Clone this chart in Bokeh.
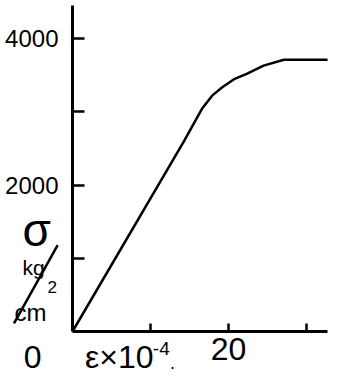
from bokeh.plotting import figure
from bokeh.models import Range1d, Label, Arrow, FixedTicker
from bokeh.embed import file_html
from bokeh.resources import INLINE

# strain (x10^-4) and stress (kg/cm^2)
eps = [0, 14.3, 15.4, 16.6, 17.9, 19.2, 20.8, 22.4, 24.5, 27.1, 32.7]
sigma = [0, 2600, 2810, 3040, 3220, 3335, 3450, 3520, 3630, 3710, 3710]

y_ticks = [1000, 2000, 3000, 4000]
y_tick_labels = {1000: "", 2000: "2000", 3000: "", 4000: "4000"}
x_ticks = [10, 20, 30]
x_tick_labels = {10: "", 20: "20", 30: ""}

FONT = "Liberation Sans"

p = figure(width=339, height=378, output_backend="svg", toolbar_location=None,
           x_range=Range1d(-9.2308, 34.2308), y_range=Range1d(-641.6, 4518.8),
           min_border=0)
p.outline_line_color = None
p.grid.visible = False
p.background_fill_color = "white"
p.border_fill_color = "white"

p.line(eps, sigma, line_width=2.5, line_color="black", line_join="round")

for ax in (p.xaxis[0], p.yaxis[0]):
    ax.fixed_location = 0
    ax.axis_line_width = 3
    ax.axis_line_color = "black"
    ax.major_tick_line_width = 2.5
    ax.major_tick_line_color = "black"
    ax.minor_tick_line_color = None
    ax.major_tick_out = 0
    ax.major_label_text_font = FONT
    ax.major_label_text_color = "black"

p.yaxis.ticker = FixedTicker(ticks=y_ticks)
p.yaxis.major_label_overrides = y_tick_labels
p.yaxis.major_label_text_font_size = "24px"
p.yaxis.major_tick_in = 12
p.yaxis.major_label_standoff = 14
p.yaxis.bounds = (0, 4450)

p.xaxis.ticker = FixedTicker(ticks=x_ticks)
p.xaxis.major_label_overrides = x_tick_labels
p.xaxis.major_label_text_font_size = "32px"
p.xaxis.major_tick_in = 8
p.xaxis.major_label_standoff = 6
p.xaxis.bounds = (0, 32.7)


def lab(x, y, text, size, align="center", baseline="middle"):
    p.add_layout(Label(x=x, y=y, text=text, text_font=FONT, text_font_size=size,
                       text_color="black", text_align=align, text_baseline=baseline))


lab(-5.1, -345, "0", "32px")
lab(1.6, -345, "ε×10", "32px", align="left")
lab(10.3, -230, "-4", "19px", align="left")
lab(12.5, -420, ".", "18px", align="left")
lab(-4.6, 1380, "σ", "46px")
lab(-5.0, 880, "kg", "21px")
lab(-5.4, 260, "cm", "24px")
lab(-2.6, 610, "2", "17px")
p.add_layout(Arrow(x_start=-7.5, y_start=110, x_end=-1.9, y_end=1180, end=None,
                   line_width=2.5, line_color="black"))

open("out.html", "w").write(file_html(p, INLINE))
